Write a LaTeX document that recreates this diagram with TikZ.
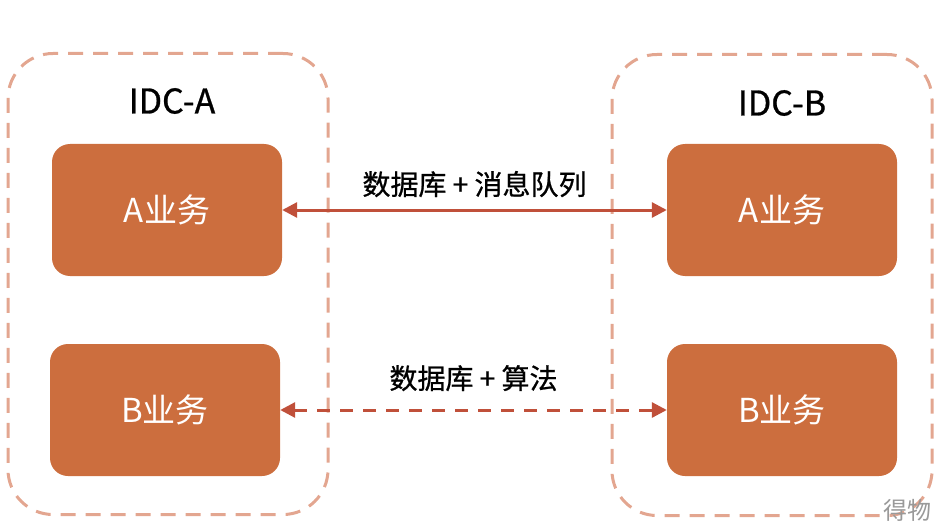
\documentclass[tikz,border=0pt]{standalone}
\usepackage{fontspec}
\setmainfont{Noto Sans CJK SC}
\newfontfamily\medfont{Noto Sans CJK SC}[FakeBold=0.8]
\usepackage{tikz}
\usetikzlibrary{arrows.meta,positioning}
\definecolor{bizfill}{HTML}{CC6E3E}
\definecolor{idcline}{HTML}{E3A690}
\definecolor{linkred}{HTML}{C0503A}

\begin{document}
\begin{tikzpicture}[x=1pt,y=-1pt,
  idc/.style={draw=idcline,line width=3pt,dash pattern=on 15pt off 10pt,rounded corners=45pt,minimum width=320pt,minimum height=461pt},
  biz/.style={fill=bizfill,text=white,rounded corners=18pt,minimum width=230pt,minimum height=132pt,font=\fontsize{33}{38}\selectfont},
  link/.style={draw=linkred,line width=3pt,{Triangle[length=15pt,width=15pt]}-{Triangle[length=15pt,width=15pt]}},
  lbl/.style={font=\medfont\fontsize{28}{33}\selectfont}]
\useasboundingbox (0,0) rectangle (942,532);
\node[idc]	(idc_a)	at (168,284)	{};
\node[idc]	(idc_b)	at (772,285)	{};
\node[font=\medfont\fontsize{34}{40}\selectfont]	(t_a)	at (172,101)	{IDC-A};
\node[font=\medfont\fontsize{34}{40}\selectfont]	(t_b)	at (782,103)	{IDC-B};
\node[biz]	(a_a)	at (167,210)	{A业务};
\node[biz]	(a_b)	at (165,410)	{B业务};
\node[biz]	(b_a)	at (782,210)	{A业务};
\node[biz]	(b_b)	at (782,410)	{B业务};
\draw[link]	(a_a.east) -- node[lbl,above=8pt]	{数据库 + 消息队列}	(b_a.west);
\draw[link,dash pattern=on 13pt off 10pt]	(a_b.east) -- node[lbl,above=14pt]	{数据库 + 算法}	(b_b.west);
\node[text=black!40,font=\fontsize{24}{28}\selectfont]	(mark)	at (907,510)	{得物};
\end{tikzpicture}
\end{document}
